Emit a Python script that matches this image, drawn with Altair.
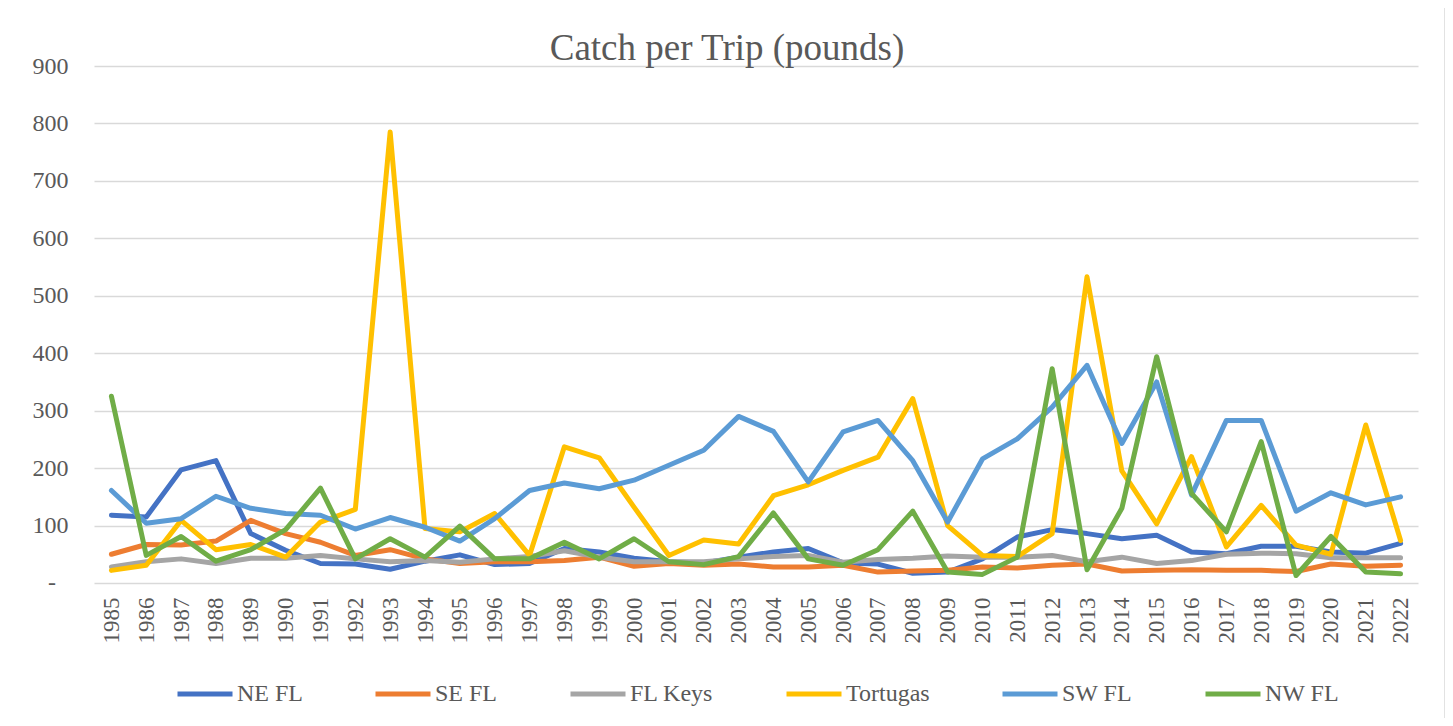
import altair as alt
import pandas as pd

years = [str(y) for y in range(1985, 2023)]

ne_fl = [118, 115, 197, 213, 86, 57, 34, 33, 24, 38, 49, 32, 34, 60, 54, 43, 37, 35, 45, 54,
         60, 35, 33, 17, 19, 42, 80, 93, 86, 77, 83, 54, 51, 64, 64, 54, 52, 69]
se_fl = [50, 67, 66, 73, 109, 86, 71, 48, 58, 42, 34, 37, 37, 39, 45, 29, 34, 31, 33, 28,
         28, 31, 19, 21, 22, 28, 26, 31, 33, 21, 22, 23, 22, 22, 20, 33, 29, 31]
fl_keys = [28, 37, 42, 34, 43, 43, 48, 42, 37, 39, 36, 42, 46, 56, 45, 37, 37, 37, 42, 46,
           48, 36, 41, 43, 47, 45, 45, 48, 37, 45, 34, 39, 50, 52, 51, 44, 44, 44]
tortugas = [22, 31, 109, 58, 67, 45, 106, 128, 785, 95, 89, 121, 48, 237, 218, 132, 48, 75, 68, 152,
            171, 196, 219, 321, 100, 48, 46, 86, 533, 195, 103, 220, 63, 135, 66, 50, 275, 74]
sw_fl = [161, 104, 112, 151, 130, 121, 118, 94, 114, 97, 73, 112, 161, 174, 164, 179, 205, 231, 290, 264,
         176, 263, 283, 213, 106, 216, 251, 306, 379, 243, 350, 153, 283, 283, 125, 157, 136, 150]
nw_fl = [325, 48, 81, 38, 58, 93, 165, 42, 77, 45, 99, 42, 42, 71, 42, 77, 37, 32, 46, 122,
         42, 31, 58, 125, 19, 15, 45, 373, 23, 130, 394, 156, 89, 246, 13, 81, 19, 16]

series_names = ["NE FL", "SE FL", "FL Keys", "Tortugas", "SW FL", "NW FL"]
series_values = [ne_fl, se_fl, fl_keys, tortugas, sw_fl, nw_fl]
colors = ["#4472C4", "#ED7D31", "#A5A5A5", "#FFC000", "#5B9BD5", "#70AD47"]
title_text = "Catch per Trip (pounds)"
zero_text = "-"

rows = []
for name, vals in zip(series_names, series_values):
    for yr, v in zip(years, vals):
        rows.append({"Year": yr, "Region": name, "Catch": v})
df = pd.DataFrame(rows)

FONT = "Liberation Serif"
GRAY = "#595959"

lines = alt.Chart(df).mark_line(strokeWidth=5, strokeJoin="round", strokeCap="round").encode(
    x=alt.X("Year:O", sort=years, scale=alt.Scale(padding=0.5),
            axis=alt.Axis(title=None, labelAngle=-90, labelFontSize=23, labelFont=FONT,
                          labelColor=GRAY, ticks=False, domain=False, labelPadding=14, grid=False)),
    y=alt.Y("Catch:Q", scale=alt.Scale(domain=[0, 900], nice=False),
            axis=alt.Axis(title=None, values=list(range(0, 1000, 100)),
                          labelExpr="datum.value == 0 ? '' : datum.label",
                          labelFontSize=24, labelFont=FONT, labelColor=GRAY,
                          ticks=False, domain=False, labelPadding=26,
                          gridColor="#D9D9D9", gridWidth=1.5)),
    color=alt.Color("Region:N", sort=series_names,
                    scale=alt.Scale(domain=series_names, range=colors),
                    legend=alt.Legend(title=None, orient="none", legendX=81, legendY=598,
                                      direction="horizontal", symbolType="stroke",
                                      symbolSize=3025, symbolStrokeWidth=5,
                                      labelFontSize=24, labelFont=FONT, labelColor=GRAY,
                                      columnPadding=62, labelOffset=2, padding=0,
                                      labelLimit=300)),
)

zero_lbl = alt.Chart(pd.DataFrame({"t": [zero_text]})).mark_text(
    font=FONT, fontSize=24, color=GRAY, baseline="middle", align="center"
).encode(text="t:N", y=alt.datum(0), x=alt.value(-42))

border = alt.Chart(pd.DataFrame({"a": [0]})).mark_rect(
    filled=False, stroke="#D9D9D9", strokeWidth=1.5
).encode(x=alt.value(-87), x2=alt.value(1351), y=alt.value(-59), y2=alt.value(700))

title = alt.Chart(pd.DataFrame({"t": [title_text]})).mark_text(
    font=FONT, fontSize=37, color=GRAY, baseline="alphabetic", align="center"
).encode(text="t:N", x=alt.value(633), y=alt.value(-6))

chart = alt.layer(border, lines, zero_lbl, title).properties(
    width=1324, height=517,
    padding={"left": 86, "top": 58, "right": 27, "bottom": 135},
    autosize=alt.AutoSizeParams(type="none"),
).configure_view(stroke=None)

chart.save("out.html", embed_options={"renderer": "svg", "actions": False})
